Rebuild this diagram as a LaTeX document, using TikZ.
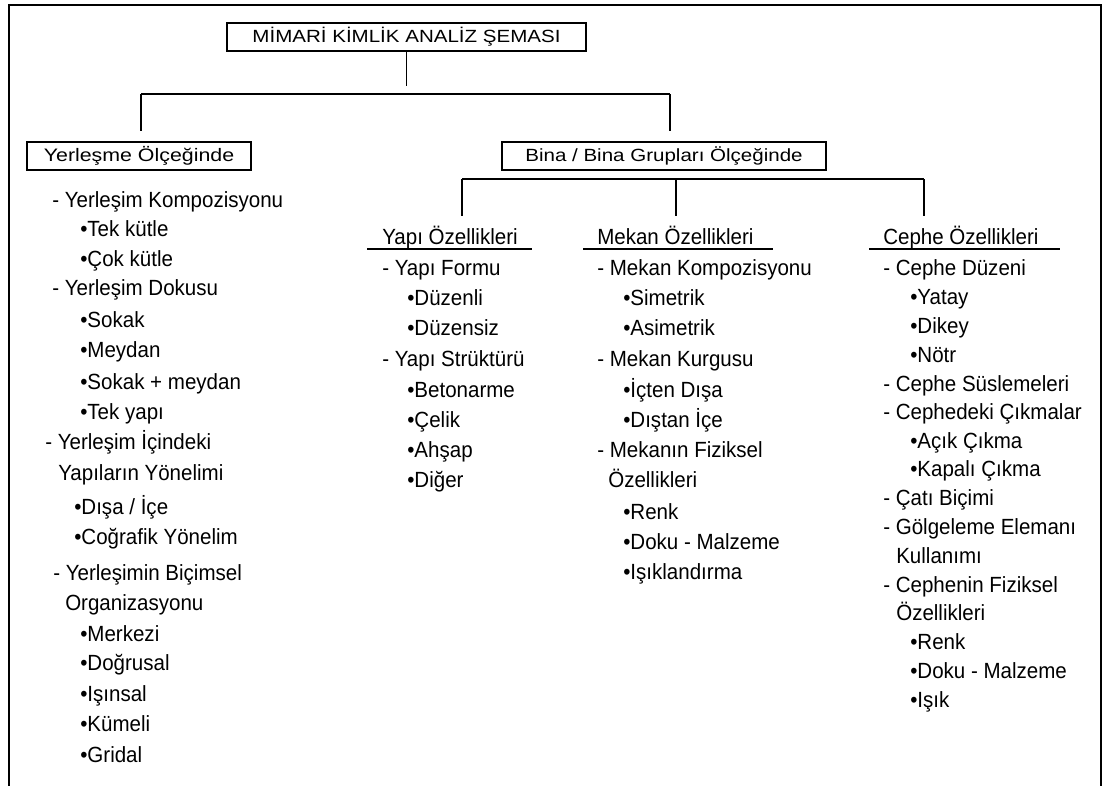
\documentclass[tikz,border=0pt]{standalone}
\usepackage{fontspec}
\usepackage{graphicx}
\setmainfont{Liberation Sans}
\newcommand{\bodyfont}{\fontsize{15.4pt}{18pt}\selectfont}
\newcommand{\squash}[1]{\scalebox{1}[0.86]{#1}}
\newcommand{\tallset}[1]{\scalebox{1}[1.07]{#1}}
\begin{document}
\begin{tikzpicture}[x=0.75pt,y=-0.75pt,
  item/.style={anchor=base west, inner sep=0pt, font=\bodyfont},
  headbox/.style={draw, line width=1.1pt, inner sep=0pt, font=\bodyfont,
    minimum height=21pt},
  conn/.style={line width=1.1pt},
  rule/.style={line width=1.1pt},
  frame/.style={line width=1.9pt}]
\useasboundingbox[fill=white] (0,0) rectangle (1105,785);

% outer frame, open at the bottom
\draw[frame] (9,792) -- (9,5) -- (1101,5) -- (1101,792);

% boxed headings
\node[headbox, minimum width=269.25pt] (title) at (406.5,37)
  {\squash{MİMARİ KİMLİK ANALİZ ŞEMASI}};
\node[headbox, minimum width=168pt] (yer) at (139,156)
  {\scalebox{1.04}[0.88]{Yerleşme Ölçeğinde}};
\node[headbox, minimum width=243pt] (bina) at (664,156)
  {\squash{Bina / Bina Grupları Ölçeğinde}};

% first level branching
\coordinate (hL) at (141,94);
\coordinate (hR) at (670,94);
\draw[conn, shorten >=6pt] (title.south) -- (title.south |- hL);
\draw[conn] (hL) -- (hR);
\draw[conn, shorten >=7.5pt] (hL) -- (hL |- yer.north);
\draw[conn, shorten >=7.5pt] (hR) -- (hR |- bina.north);

% second level branching
\coordinate (bL) at (462,179);
\coordinate (bM) at (676,179);
\coordinate (bR) at (924,179);
\coordinate (eL) at (462,216);
\coordinate (eM) at (676,216);
\coordinate (eR) at (924,216);
\draw[conn] (bL) -- (bR);
\draw[conn] (bL) -- (eL);
\draw[conn] (bM) -- (eM);
\draw[conn] (bR) -- (eR);

% underlined column headings
\node[item] (yapiH)  at (382,244) {\tallset{Yapı Özellikleri}};
\node[item] (mekanH) at (597,244) {\tallset{Mekan Özellikleri}};
\node[item] (cepheH) at (883,244) {\tallset{Cephe Özellikleri}};
\draw[rule] (367,249) -- (532,249);
\draw[rule] (583,249) -- (773,249);
\draw[rule] (869,249) -- (1060,249);

% settlement scale column
\foreach \px/\py/\txt [count=\i] in {
  52/200/{- Yerleşim Kompozisyonu},
  80/229/{•Tek kütle},
  80/259/{•Çok kütle},
  52/288/{- Yerleşim Dokusu},
  80/320/{•Sokak},
  80/350/{•Meydan},
  80/382/{•Sokak + meydan},
  80/412/{•Tek yapı},
  45/442/{- Yerleşim İçindeki},
  58/473/{Yapıların Yönelimi},
  74/507/{•Dışa / İçe},
  74/537/{•Coğrafik Yönelim},
  53/573/{- Yerleşimin Biçimsel},
  65/603/{Organizasyonu},
  80/634/{•Merkezi},
  80/663/{•Doğrusal},
  80/694/{•Işınsal},
  80/724/{•Kümeli},
  80/755/{•Gridal}}
  \node[item] (yer\i) at (\px,\py+7) {\tallset{\txt}};

% structure column
\foreach \px/\py/\txt [count=\i] in {
  382/268/{- Yapı Formu},
  407/298/{•Düzenli},
  407/328/{•Düzensiz},
  382/359/{- Yapı Strüktürü},
  407/390/{•Betonarme},
  407/420/{•Çelik},
  407/450/{•Ahşap},
  407/480/{•Diğer}}
  \node[item] (yapi\i) at (\px,\py+7) {\tallset{\txt}};

% space column
\foreach \px/\py/\txt [count=\i] in {
  597/268/{- Mekan Kompozisyonu},
  623/298/{•Simetrik},
  623/328/{•Asimetrik},
  597/359/{- Mekan Kurgusu},
  623/390/{•İçten Dışa},
  623/420/{•Dıştan İçe},
  597/450/{- Mekanın Fiziksel},
  608/480/{Özellikleri},
  623/512/{•Renk},
  623/542/{•Doku - Malzeme},
  623/572/{•Işıklandırma}}
  \node[item] (mekan\i) at (\px,\py+7) {\tallset{\txt}};

% facade column
\foreach \px/\py/\txt [count=\i] in {
  883/268/{- Cephe Düzeni},
  910/297/{•Yatay},
  910/326/{•Dikey},
  910/355/{•Nötr},
  883/384/{- Cephe Süslemeleri},
  883/412/{- Cephedeki Çıkmalar},
  910/441/{•Açık Çıkma},
  910/469/{•Kapalı Çıkma},
  883/498/{- Çatı Biçimi},
  883/527/{- Gölgeleme Elemanı},
  896/556/{Kullanımı},
  883/585/{- Cephenin Fiziksel},
  896/613/{Özellikleri},
  910/642/{•Renk},
  910/671/{•Doku - Malzeme},
  910/700/{•Işık}}
  \node[item] (cephe\i) at (\px,\py+7) {\tallset{\txt}};
\end{tikzpicture}
\end{document}
